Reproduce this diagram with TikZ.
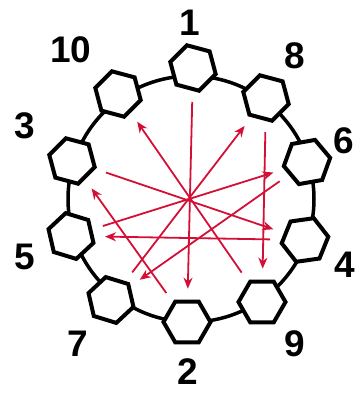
\documentclass[tikz,border=0pt]{standalone}
\usepackage{fontspec}
\setmainfont{Liberation Sans}
\usetikzlibrary{arrows.meta,shapes.geometric}
\definecolor{ringred}{HTML}{D40F36}

\begin{document}
\begin{tikzpicture}[x=1pt, y=-1pt,
    hexa/.style={draw=black, fill=white, line width=4pt, regular polygon, regular polygon sides=6, minimum size=47pt, inner sep=0pt},
    num/.style={font=\fontsize{37}{37}\selectfont\bfseries, inner sep=0pt}]
  \useasboundingbox (0,0) rectangle (356,394);
  \coordinate (c) at (191,199);
  \draw[line width=3.5pt] (c) circle[radius=123pt];
  % ring of hexagons, clockwise from the top
  \node[hexa, rotate=-15] (h1) at (193,68) {};
  \node[hexa, rotate=-15] (h8) at (266,98) {};
  \node[hexa, rotate=10] (h6) at (307,162) {};
  \node[hexa, rotate=8] (h4) at (305,240) {};
  \node[hexa] (h9) at (262,302) {};
  \node[hexa] (h2) at (187,322) {};
  \node[hexa, rotate=-17] (h7) at (111,300) {};
  \node[hexa, rotate=-17] (h5) at (71,236) {};
  \node[hexa, rotate=-15] (h3) at (72,161) {};
  \node[hexa, rotate=-15] (h10) at (118,94) {};
  % numbers
  \node[num] (l1) at (190,23) {1};
  \node[num] (l8) at (295,56) {8};
  \node[num] (l6) at (344,141) {6};
  \node[num] (l4) at (345,265) {4};
  \node[num] (l9) at (295,344) {9};
  \node[num] (l2) at (188,372) {2};
  \node[num] (l7) at (78,344) {7};
  \node[num] (l5) at (25,257) {5};
  \node[num] (l3) at (25,126) {3};
  \node[num] (l10) at (71,50) {10};
  \foreach \x/\y in {1/2,2/3,3/4,4/5,5/6,6/7,7/8,8/9,9/10}{\draw[-{Stealth[length=11pt,width=9pt]}, line width=1.8pt, ringred, shorten <=11pt, shorten >=11pt] (h\x) -- (h\y);}
\end{tikzpicture}
\end{document}
